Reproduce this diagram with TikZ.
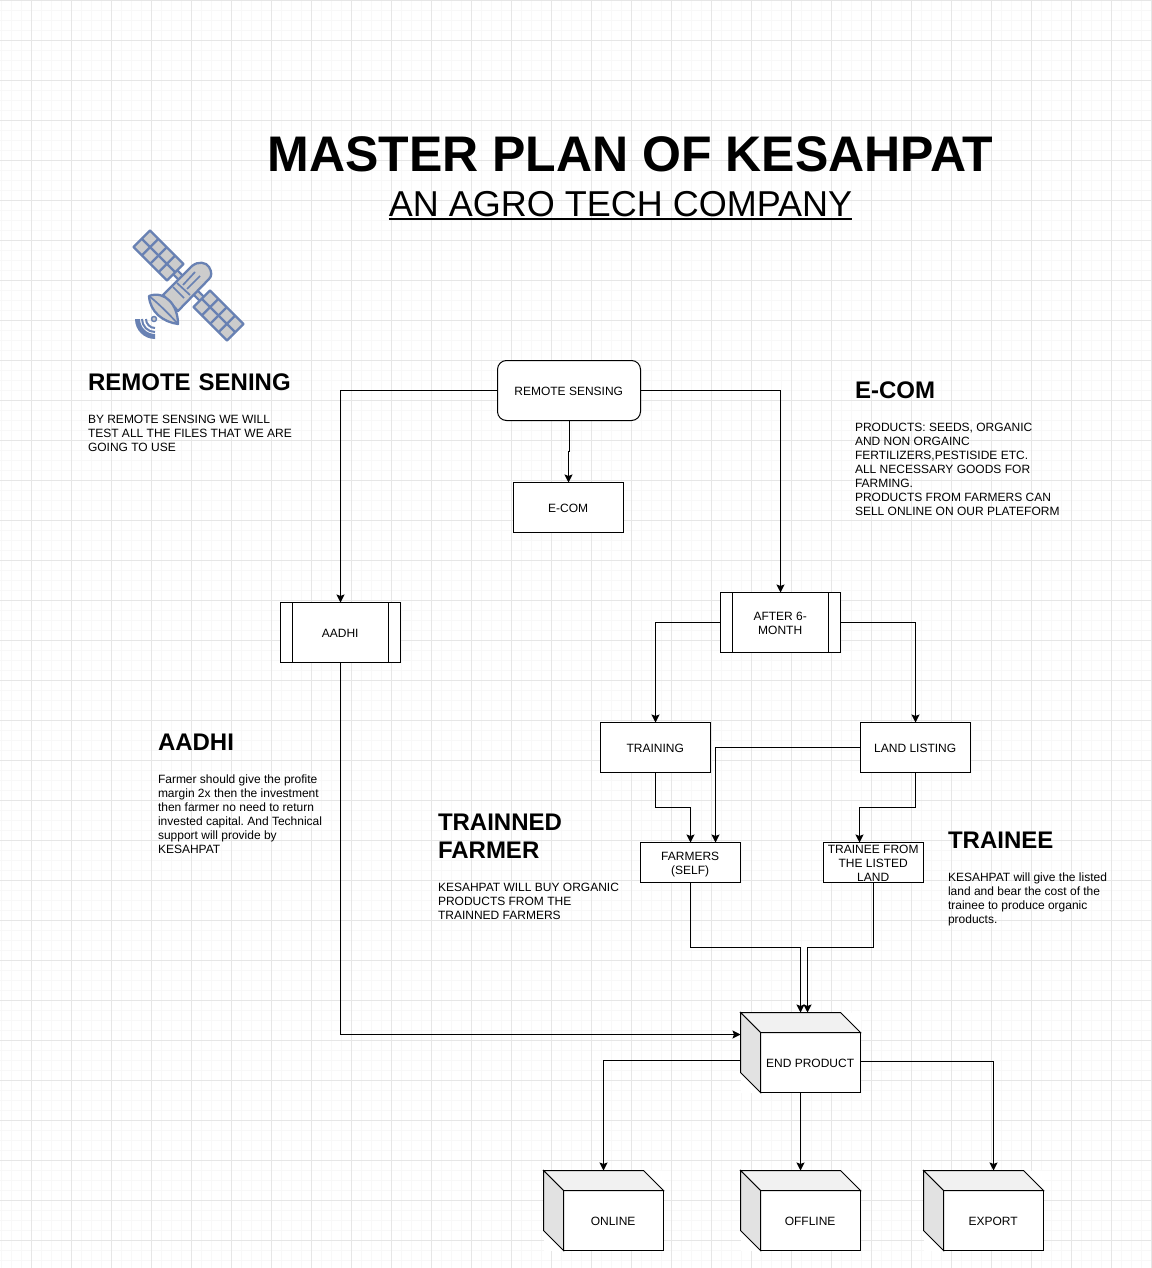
\documentclass[tikz,border=0pt]{standalone}
\usepackage{fontspec}
\setmainfont{Liberation Sans}
\usetikzlibrary{arrows.meta,calc}
\frenchspacing
\definecolor{gridmajor}{HTML}{E6E6E6}
\definecolor{gridminor}{HTML}{F8F8F8}
\definecolor{satline}{HTML}{6881B3}
\definecolor{satfill}{HTML}{CCCCCC}
\definecolor{cubetop}{HTML}{F1F1F1}
\definecolor{cubeleft}{HTML}{E2E2E2}
\tikzset{
  x=1pt,y=-1pt,
  every node/.style={font=\fontsize{12}{14}\selectfont,outer sep=0pt,align=center},
  boxtext/.style={label={[yshift=-1pt,xshift=-.3pt,inner sep=0pt,align=center]center:#1}},
  boxtextlow/.style={label={[yshift=-1.8pt,xshift=-.3pt,inner sep=0pt,align=center]center:#1}},
  boxnode/.style={draw=black,fill=white,line width=1pt,inner sep=0pt},
  roundbox/.style={boxnode,rounded corners=9pt,minimum width=143pt,minimum height=60pt},
  flatbox/.style={boxnode,minimum width=110pt,minimum height=50pt},
  smallbox/.style={boxnode,minimum width=100pt,minimum height=40pt},
  procbox/.style={boxnode,minimum width=120pt,minimum height=60pt},
  cubebox/.style={fill=white,inner sep=0pt,minimum width=120pt,minimum height=80pt,
    label={[xshift=9.6pt,yshift=-11pt,inner sep=0pt]center:#1}},
  conn/.style={draw=black,line width=1pt,-{Stealth[length=8pt,width=8pt,inset=1.5pt]}},
  plainline/.style={draw=black,line width=1pt},
  headtext/.style={anchor=north west,align=left,inner sep=0pt,text width=#1,font=\fontsize{24}{28}\selectfont\bfseries},
  bodytext/.style={anchor=north west,align=left,inner sep=0pt},
  sat/.style={draw=satline,fill=satfill,line width=2.3pt,line join=round},
  satl/.style={draw=satline,line width=1.7pt,line join=round},
}
\newcommand{\cubefaces}[1]{%
  \filldraw[plainline,fill=cubetop] (#1.north west) -- ($(#1.north east)+(-20,0)$) -- ($(#1.north east)+(0,20)$) -- ($(#1.north west)+(20,20)$) -- cycle;
  \filldraw[plainline,fill=cubeleft] (#1.north west) -- ($(#1.north west)+(20,20)$) -- ($(#1.south west)+(20,0)$) -- ($(#1.south west)+(0,-20)$) -- cycle;
  \draw[plainline] ($(#1.north east)+(0,20)$) -- (#1.south east) -- ($(#1.south west)+(20,0)$);
}
\newcommand{\procsides}[1]{%
  \draw[plainline] ($(#1.north west)+(12,0)$) -- ($(#1.south west)+(12,0)$);
  \draw[plainline] ($(#1.north east)+(-12,0)$) -- ($(#1.south east)+(-12,0)$);
}
\newcommand{\solarpanel}[4]{%
  \coordinate (pa) at (#1); \coordinate (pb) at (#2); \coordinate (pc) at (#3); \coordinate (pd) at (#4);
  \filldraw[sat] (pa) -- (pb) -- (pc) -- (pd) -- cycle;
  \draw[sat] ($(pa)!.5!(pb)$) -- ($(pd)!.5!(pc)$);
  \foreach \t in {.25,.5,.75} \draw[sat] ($(pa)!\t!(pd)$) -- ($(pb)!\t!(pc)$);
}
\begin{document}
\begin{tikzpicture}
\useasboundingbox (0,0) rectangle (1151,1268);
\fill[white] (0,0) rectangle (1151,1268);
% grid
\foreach \i in {0,...,115} \draw[gridminor,line width=1pt] ({1.5+10*\i},0) -- ({1.5+10*\i},1268);
\foreach \i in {0,...,126} \draw[gridminor,line width=1pt] (0,{0.5+10*\i}) -- (1151,{0.5+10*\i});
\foreach \i in {0,...,28} \draw[gridmajor,line width=1pt] ({31.5+40*\i},0) -- ({31.5+40*\i},1268);
\foreach \i in {0,...,31} \draw[gridmajor,line width=1pt] (0,{0.5+40*\i}) -- (1151,{0.5+40*\i});

% titles
\node[inner sep=0pt,font=\fontsize{50}{56}\selectfont\bfseries] (title) at (630.5,154) {MASTER PLAN OF KESAHPAT};
\node[inner sep=0pt,font=\fontsize{36}{42}\selectfont] (subtitle) at (620.5,204) {AN AGRO TECH COMPANY};
\draw[black,line width=2pt] (subtitle.west |- 0,219) -- (subtitle.east |- 0,219);

% satellite
\draw[satline,line width=8pt] (175,272) -- (202,299);
\draw[satfill,line width=3.5pt] (175,272) -- (202,299);
\solarpanel{150,230.5}{133.5,247}{167,280.5}{183.5,264}
\solarpanel{210,290.5}{193.5,307}{227,340.5}{243.5,324}
\filldraw[sat] (163,295) -- (192,266) .. controls (198,261) and (206,262) .. (209,267) .. controls (212,272) and (212,276) .. (209,279) -- (178,311) -- cycle;
\draw[satl] (173,287) -- (184,298);
\draw[satl] (177,283) -- (190,295);
\draw[satl] (183,285) -- (195,272);
\draw[satl] (187,289) -- (200,276);
\filldraw[sat] (149,296) .. controls (165,290) and (178,305) .. (178,324) .. controls (163,322) and (150,312) .. (149,296) -- cycle;
\draw[satl] (149,296) .. controls (158,303) and (170,315) .. (178,324);
\filldraw[sat,line width=1.5pt] (154,319) circle (2.5pt);
\fill[satline] (135,319) arc[start angle=180,end angle=270,radius=20pt] -- (155,334) arc[start angle=270,end angle=180,radius=15pt] -- cycle;
\draw[satline,line width=2pt] (142,319) arc[start angle=180,end angle=270,radius=13pt];
\draw[satline,line width=2pt] (146,319) arc[start angle=180,end angle=270,radius=9pt];

% text blocks
\node[headtext=240pt] (h1) at (88,374) {REMOTE SENING};
\node[bodytext] (t1) at (88,415.5) {BY REMOTE SENSING WE WILL\\TEST ALL THE FILES THAT WE ARE\\GOING TO USE};
\node[headtext=240pt] (h2) at (855,382) {E-COM};
\node[bodytext] (t2) at (855,423) {PRODUCTS: SEEDS, ORGANIC\\AND NON ORGAINC\\FERTILIZERS,PESTISIDE ETC.\\ALL NECESSARY GOODS FOR\\FARMING.\\PRODUCTS FROM FARMERS CAN\\SELL ONLINE ON OUR PLATEFORM};
\node[headtext=200pt] (h3) at (158,734) {AADHI};
\node[bodytext] (t3) at (158,775) {Farmer should give the profite\\margin 2x then the investment\\then farmer no need to return\\invested capital. And Technical\\support will provide by\\KESAHPAT};
\node[headtext=180pt] (h4) at (438,814) {TRAINNED\\FARMER};
\node[bodytext] (t4) at (438,883) {KESAHPAT WILL BUY ORGANIC\\PRODUCTS FROM THE\\TRAINNED FARMERS};
\node[headtext=180pt] (h5) at (948,832) {TRAINEE};
\node[bodytext] (t5) at (948,873) {KESAHPAT will give the listed\\land and bear the cost of the\\trainee to produce organic\\products.};

% boxes
\node[roundbox,boxtext={REMOTE SENSING}] (remote) at (569,390.5) {};
\node[flatbox,boxtext={E-COM}] (ecom) at (568.5,507.5) {};
\node[procbox,boxtext={AADHI}] (aadhi) at (340.5,632.5) {};
\node[procbox,boxtext={AFTER 6-\\MONTH}] (after) at (780.5,622.5) {};
\node[flatbox,boxtext={TRAINING}] (training) at (655.5,747.5) {};
\node[flatbox,boxtext={LAND LISTING}] (land) at (915.5,747.5) {};
\node[smallbox,boxtextlow={FARMERS\\(SELF)}] (farmers) at (690.5,862.5) {};
\node[smallbox,boxtext={TRAINEE FROM\\THE LISTED\\LAND}] (trainee) at (873.5,862.5) {};
\node[cubebox={END PRODUCT}] (endprod) at (800.5,1052.5) {};
\node[cubebox={ONLINE}] (online) at (603.5,1210.5) {};
\node[cubebox={OFFLINE}] (offline) at (800.5,1210.5) {};
\node[cubebox={EXPORT}] (export) at (983.5,1210.5) {};
\procsides{aadhi}
\procsides{after}
\cubefaces{endprod}
\cubefaces{online}
\cubefaces{offline}
\cubefaces{export}

% connector ends away from the centres of the sides
\coordinate (landin) at (715.5,842.5);
\coordinate (traineein) at (859.5,842.5);
\coordinate (endleftin) at (740.5,1034.5);
\coordinate (endleftout) at (740.5,1060.5);
\coordinate (endrightout) at (860.5,1061.5);
\coordinate (endtopb) at (807.5,1012.5);
\coordinate (exportin) at (993.5,1170.5);

% connectors
\draw[conn] (remote.south) -- ++(0,31) -- ++(-.5,0) -- (ecom.north);
\draw[conn] (remote.west) -| (aadhi.north);
\draw[conn] (remote.east) -| (after.north);
\draw[conn] (after.west) -| (training.north);
\draw[conn] (after.east) -| (land.north);
\draw[conn] (training.south) -- ++(0,35) -| (farmers.north);
\draw[conn] (land.west) -| (landin);
\draw[conn] (land.south) -- ++(0,35) -| (traineein);
\draw[conn] (farmers.south) -- ++(0,65) -| (endprod.north);
\draw[conn] (trainee.south) -- ++(0,65) -| (endtopb);
\draw[conn] (aadhi.south) |- (endleftin);
\draw[conn] (endleftout) -| (online.north);
\draw[conn] (endprod.south) -- (offline.north);
\draw[conn] (endrightout) -| (exportin);
\end{tikzpicture}
\end{document}
